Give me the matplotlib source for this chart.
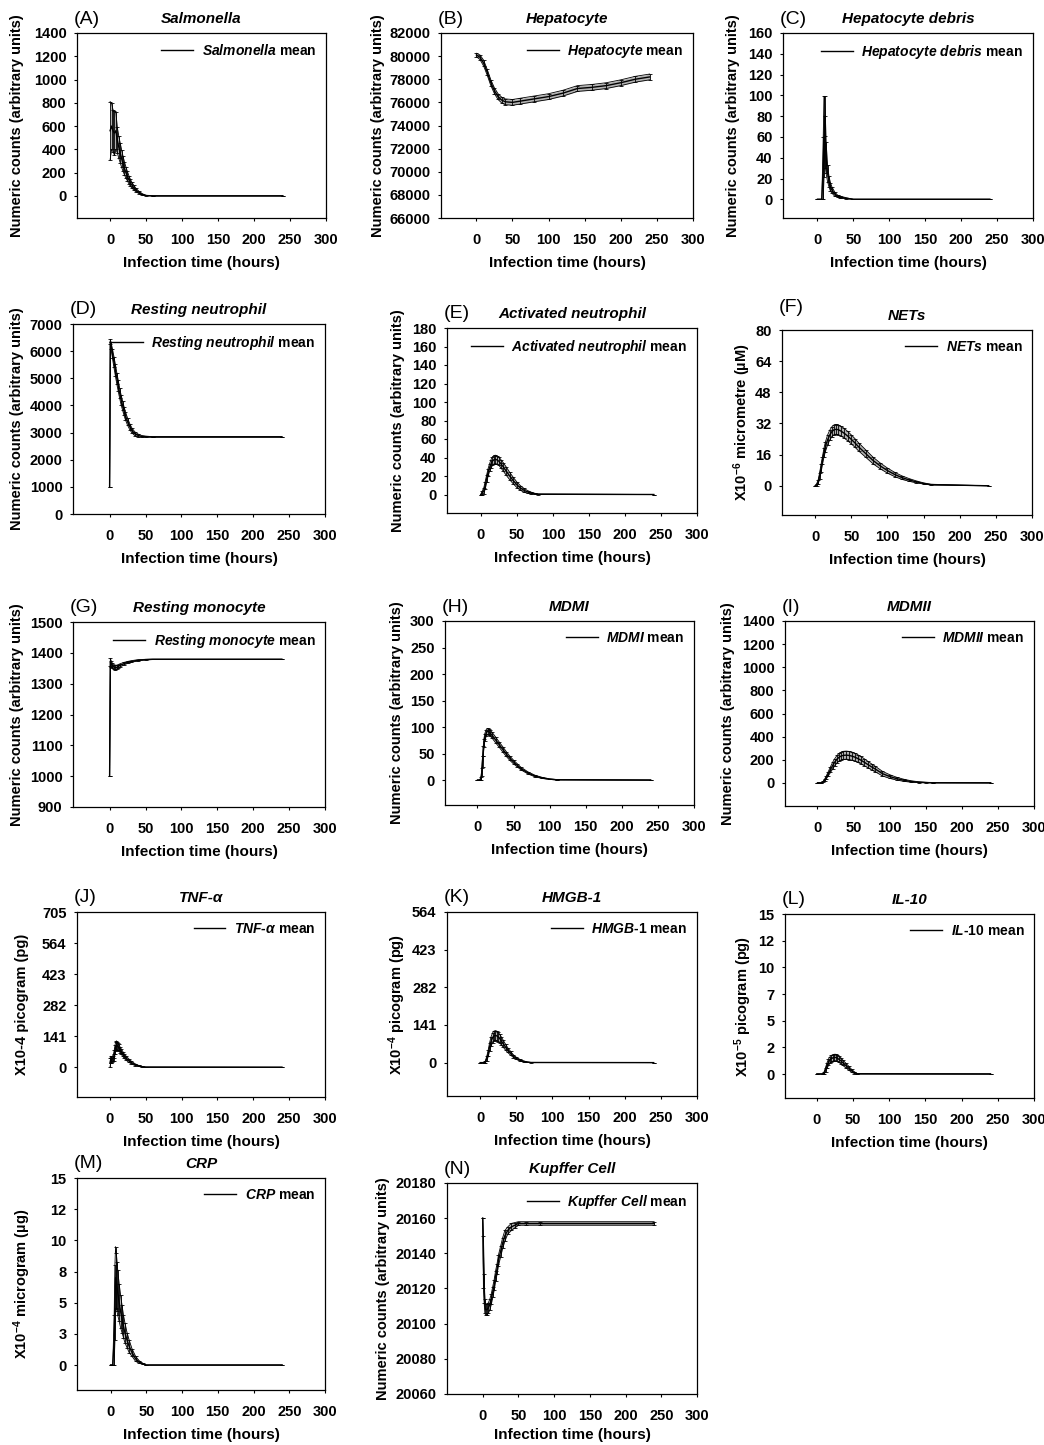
import numpy as np
import matplotlib
matplotlib.use("Agg")
import matplotlib.pyplot as plt

plt.rcParams.update({
    "font.family": ["Liberation Sans", "DejaVu Sans"],
    "font.weight": "bold",
    "mathtext.fontset": "custom",
    "mathtext.rm": "Liberation Sans:bold",
    "mathtext.it": "Liberation Sans:italic:bold",
    "mathtext.bf": "Liberation Sans:bold",
    "mathtext.default": "regular",
    "axes.linewidth": 0.9,
})

# ---------------- simulated time courses (mean and SD) ----------------
hour_ticks = [0, 50, 100, 150, 200, 250, 300]

salmonella_t    = [0, 2, 4, 6, 8, 10, 12, 14, 16, 18, 20, 22, 24, 26, 28, 30, 33, 36, 40, 45, 50, 60, 240]
salmonella_mean = [560, 600, 560, 540, 560, 480, 420, 370, 320, 275, 235, 200, 170, 140, 115, 95, 70, 50, 30, 12, 3, 0, 0]
salmonella_sd   = [250, 200, 180, 190, 160, 110, 95, 85, 75, 65, 55, 48, 40, 35, 30, 25, 20, 15, 10, 6, 2, 0, 0]

hepatocyte_t    = [0, 5, 10, 15, 20, 25, 30, 35, 40, 50, 60, 80, 100, 120, 140, 160, 180, 200, 220, 240]
hepatocyte_mean = [80100, 79900, 79400, 78600, 77700, 77000, 76500, 76200, 76050, 76000, 76100, 76300, 76500, 76800, 77200, 77300, 77450, 77700, 78000, 78200]
hepatocyte_sd   = [150, 200, 250, 250, 250, 250, 250, 250, 250, 250, 250, 250, 250, 250, 250, 250, 250, 250, 250, 250]

debris_t    = [0, 6, 8, 9, 10, 11, 12, 14, 16, 18, 20, 24, 28, 32, 40, 50, 240]
debris_mean = [0, 0, 30, 60, 80, 55, 40, 25, 17, 12, 9, 5, 3, 2, 1, 0, 0]
debris_sd   = [0, 0, 30, 39, 19, 25, 15, 8, 5, 4, 3, 2, 1, 1, 0.5, 0, 0]

rest_neut_t    = [0, 1, 2, 4, 6, 8, 10, 12, 14, 16, 18, 20, 22, 25, 28, 31, 35, 40, 45, 50, 60, 240]
rest_neut_mean = [1000, 6350, 6200, 5900, 5600, 5300, 5000, 4720, 4450, 4200, 4000, 3800, 3620, 3400, 3220, 3080, 2960, 2890, 2860, 2850, 2840, 2840]
rest_neut_sd   = [0, 80, 120, 170, 200, 210, 210, 200, 190, 180, 170, 160, 150, 130, 110, 90, 70, 50, 30, 20, 10, 10]

act_neut_t    = [0, 2, 4, 6, 8, 10, 12, 14, 16, 18, 20, 22, 25, 28, 31, 35, 40, 45, 50, 55, 60, 65, 70, 75, 80, 240]
act_neut_mean = [0, 2, 4, 10, 17, 24, 29, 33, 36, 37.5, 38, 37.5, 36, 33, 30, 25.5, 20, 15, 10.5, 7, 4.5, 2.7, 1.5, 0.8, 0.3, 0]
act_neut_sd   = [0, 2, 3, 4, 4, 4, 4, 4.5, 4.5, 4.5, 4.5, 4.5, 4.5, 4.5, 4.5, 4.5, 4, 3.5, 3, 2.5, 2, 1.5, 1, 0.5, 0.3, 0]

nets_t    = [0, 2, 4, 6, 8, 10, 12, 14, 17, 20, 23, 26, 29, 32, 36, 40, 45, 50, 55, 60, 70, 80, 90, 100, 110, 120, 130, 140, 150, 160, 240]
nets_mean = [0, 0.5, 2, 5, 9, 13, 17, 20, 23.5, 26, 27.8, 28.8, 29, 28.8, 28, 27, 25.5, 23.8, 22, 20, 16.5, 13, 10.2, 7.8, 5.8, 4.2, 3, 2, 1.2, 0.6, 0]
nets_sd   = [0, 0.5, 1, 1.5, 2, 2, 2.2, 2.4, 2.5, 2.5, 2.5, 2.5, 2.5, 2.5, 2.5, 2.5, 2.4, 2.3, 2.2, 2.1, 1.9, 1.7, 1.5, 1.3, 1.1, 0.9, 0.7, 0.5, 0.3, 0.2, 0]

rest_mono_t    = [0, 1, 2, 4, 6, 8, 10, 12, 15, 20, 25, 30, 40, 50, 60, 240]
rest_mono_mean = [1000, 1370, 1365, 1358, 1354, 1352, 1353, 1356, 1360, 1365, 1369, 1372, 1376, 1378, 1379, 1379]
rest_mono_sd   = [0, 12, 10, 8, 8, 8, 7, 6, 5, 4, 3, 2.5, 2, 1, 0.5, 0.5]

mdm1_t    = [0, 3, 5, 6, 7, 8, 9, 10, 12, 14, 16, 18, 20, 25, 30, 35, 40, 45, 50, 55, 60, 70, 80, 90, 100, 110, 240]
mdm1_mean = [0, 0, 3, 15, 35, 55, 70, 80, 89, 92, 91, 88, 85, 76, 67, 58, 49, 41, 34, 28, 22, 13.5, 7.5, 4, 1.8, 0.6, 0]
mdm1_sd   = [0, 0, 3, 8, 10, 9, 8, 7, 6, 5.5, 5.5, 5.5, 5.5, 5.5, 5, 5, 4.5, 4, 3.5, 3, 2.5, 2, 1.5, 1, 0.6, 0.3, 0]

mdm2_t    = [0, 5, 8, 10, 12, 15, 18, 21, 24, 27, 30, 33, 36, 40, 44, 48, 52, 56, 60, 65, 70, 75, 80, 90, 100, 110, 120, 130, 140, 150, 160, 240]
mdm2_mean = [0, 0, 10, 25, 45, 80, 115, 150, 180, 205, 222, 233, 238, 240, 237, 231, 222, 210, 197, 178, 158, 138, 120, 80, 55, 36, 22, 12, 6, 3, 1, 0]
mdm2_sd   = [0, 0, 5, 8, 12, 18, 24, 28, 30, 32, 33, 34, 35, 35, 35, 35, 34, 33, 32, 30, 28, 26, 24, 20, 16, 12, 9, 6, 4, 2, 1, 0]

tnf_t    = [0, 1, 2, 3, 4, 5, 6, 7, 8, 9, 10, 11, 12, 14, 16, 18, 20, 23, 26, 30, 35, 40, 45, 50, 240]
tnf_mean = [20, 35, 30, 38, 40, 45, 60, 80, 95, 100, 98, 95, 90, 80, 70, 60, 50, 40, 31, 21, 12, 6, 2.5, 0.5, 0]
tnf_sd   = [20, 15, 12, 12, 12, 15, 18, 20, 20, 20, 18, 17, 15, 13, 12, 11, 10, 9, 8, 6, 4, 2.5, 1.5, 0.5, 0]

hmgb_t    = [0, 5, 7, 9, 11, 13, 15, 17, 19, 21, 23, 25, 27, 29, 32, 35, 38, 42, 46, 50, 55, 60, 65, 70, 240]
hmgb_mean = [0, 0, 3, 15, 35, 60, 80, 93, 100, 102, 100, 96, 90, 82, 70, 58, 47, 35, 24, 16, 9, 4.5, 2, 0.5, 0]
hmgb_sd   = [0, 0, 3, 8, 12, 15, 17, 18, 18, 18, 18, 17, 16, 15, 13, 11, 9, 7, 5, 4, 3, 2, 1, 0.3, 0]

il10_t    = [0, 8, 10, 12, 14, 16, 18, 20, 22, 24, 26, 28, 30, 33, 36, 40, 44, 48, 52, 56, 240]
il10_mean = [0, 0, 0.1, 0.4, 0.8, 1.1, 1.3, 1.45, 1.5, 1.55, 1.55, 1.5, 1.4, 1.25, 1.05, 0.8, 0.55, 0.3, 0.12, 0.02, 0]
il10_sd   = [0, 0, 0.1, 0.2, 0.25, 0.3, 0.3, 0.3, 0.3, 0.3, 0.3, 0.3, 0.3, 0.28, 0.25, 0.22, 0.18, 0.14, 0.08, 0.02, 0]

crp_t    = [0, 3, 5, 6, 7, 8, 9, 10, 12, 14, 16, 18, 20, 23, 26, 30, 35, 40, 45, 50, 240]
crp_mean = [0, 0, 2, 5, 7, 6.8, 6.3, 5.8, 5, 4.3, 3.7, 3.1, 2.6, 2, 1.5, 1, 0.5, 0.25, 0.1, 0, 0]
crp_sd   = [0, 0, 2, 3, 2.5, 2.2, 2, 1.8, 1.5, 1.3, 1.1, 0.9, 0.8, 0.6, 0.5, 0.3, 0.2, 0.1, 0.05, 0, 0]

kupffer_t    = [0, 1, 2, 3, 4, 6, 8, 10, 12, 14, 16, 18, 20, 22, 25, 28, 31, 35, 40, 45, 50, 60, 80, 240]
kupffer_mean = [20160, 20135, 20120, 20110, 20108, 20108, 20109, 20111, 20114, 20118, 20122, 20127, 20131, 20136, 20141, 20146, 20150, 20153, 20155, 20156, 20157, 20157, 20157, 20157]
kupffer_sd   = [0, 15, 8, 4, 3, 3, 3, 3, 3, 3, 3, 3, 3, 3, 3, 3, 3, 2, 2, 1.5, 1, 1, 1, 1]

# ---------------- y tick values / labels ----------------
salmonella_yticks = [0, 200, 400, 600, 800, 1000, 1200, 1400]
hepatocyte_yticks = [66000, 68000, 70000, 72000, 74000, 76000, 78000, 80000, 82000]
debris_yticks     = [0, 20, 40, 60, 80, 100, 120, 140, 160]
rest_neut_yticks  = [0, 1000, 2000, 3000, 4000, 5000, 6000, 7000]
act_neut_yticks   = [0, 20, 40, 60, 80, 100, 120, 140, 160, 180]
nets_yticks       = [0, 16, 32, 48, 64, 80]
rest_mono_yticks  = [900, 1000, 1100, 1200, 1300, 1400, 1500]
mdm1_yticks       = [0, 50, 100, 150, 200, 250, 300]
mdm2_yticks       = [0, 200, 400, 600, 800, 1000, 1200, 1400]
tnf_yticks        = [0, 141, 282, 423, 564, 705]
hmgb_yticks       = [0, 141, 282, 423, 564]
il10_yticks       = [0, 2.5, 5, 7.5, 10, 12.5, 15]
il10_yticklabels  = ["0", "2", "5", "7", "10", "12", "15"]
crp_yticks        = [0, 2.5, 5, 7.5, 10, 12.5, 15]
crp_yticklabels   = ["0", "3", "5", "8", "10", "12", "15"]
kupffer_yticks    = [20060, 20080, 20100, 20120, 20140, 20160, 20180]

COUNTS = "Numeric counts (arbitrary units)"

# box = (left, right, top, bottom) in pixels; ylab_x = pixel x of the y-axis title
panels = [
    dict(letter="(A)", title="Salmonella", legend=r"$\mathit{Salmonella}$ mean",
         t=salmonella_t, m=salmonella_mean, s=salmonella_sd, yt=salmonella_yticks,
         ylim=(-190, 1400), xmin=-46, box=(77, 326, 33, 218), ylabel=COUNTS, ylab_x=17),
    dict(letter="(B)", title="Hepatocyte", legend=r"$\mathit{Hepatocyte}$ mean",
         t=hepatocyte_t, m=hepatocyte_mean, s=hepatocyte_sd, yt=hepatocyte_yticks,
         ylim=(66000, 82000), xmin=-49, box=(441, 693, 33, 218), ylabel=COUNTS, ylab_x=378),
    dict(letter="(C)", title="Hepatocyte debris", legend=r"$\mathit{Hepatocyte\ debris}$ mean",
         t=debris_t, m=debris_mean, s=debris_sd, yt=debris_yticks,
         ylim=(-18, 160), xmin=-48, box=(783, 1033, 33, 218), ylabel=COUNTS, ylab_x=733),
    dict(letter="(D)", title="Resting neutrophil", legend=r"$\mathit{Resting\ neutrophil}$ mean",
         t=rest_neut_t, m=rest_neut_mean, s=rest_neut_sd, yt=rest_neut_yticks,
         ylim=(0, 7000), xmin=-51, box=(73, 325, 324, 514), ylabel=COUNTS, ylab_x=17),
    dict(letter="(E)", title="Activated neutrophil", legend=r"$\mathit{Activated\ neutrophil}$ mean",
         t=act_neut_t, m=act_neut_mean, s=act_neut_sd, yt=act_neut_yticks,
         ylim=(-20, 180), xmin=-47, box=(447, 697, 328, 513), ylabel=COUNTS, ylab_x=398),
    dict(letter="(F)", title="NETs", legend=r"$\mathit{NETs}$ mean",
         t=nets_t, m=nets_mean, s=nets_sd, yt=nets_yticks,
         ylim=(-15, 80), xmin=-46, box=(782, 1032, 330, 515),
         ylabel=r"X10$^{-6}$ micrometre (µM)", ylab_x=742, letter_dy=22),
    dict(letter="(G)", title="Resting monocyte", legend=r"$\mathit{Resting\ monocyte}$ mean",
         t=rest_mono_t, m=rest_mono_mean, s=rest_mono_sd, yt=rest_mono_yticks,
         ylim=(900, 1500), xmin=-51, box=(73, 325, 622, 807), ylabel=COUNTS, ylab_x=17),
    dict(letter="(H)", title="MDMI", legend=r"$\mathit{MDMI}$ mean",
         t=mdm1_t, m=mdm1_mean, s=mdm1_sd, yt=mdm1_yticks,
         ylim=(-47, 300), xmin=-45, box=(445, 694, 621, 805), ylabel=COUNTS, ylab_x=397),
    dict(letter="(I)", title="MDMII", legend=r"$\mathit{MDMII}$ mean",
         t=mdm2_t, m=mdm2_mean, s=mdm2_sd, yt=mdm2_yticks,
         ylim=(-200, 1400), xmin=-45, box=(785, 1034, 621, 806), ylabel=COUNTS, ylab_x=728),
    dict(letter="(J)", title="TNF-α", legend=r"$\mathit{TNF}$-$\mathit{α}$ mean",
         t=tnf_t, m=tnf_mean, s=tnf_sd, yt=tnf_yticks,
         ylim=(-135, 705), xmin=-46, box=(77, 325, 912, 1097),
         ylabel="X10-4 picogram (pg)", ylab_x=22),
    dict(letter="(K)", title="HMGB-1", legend=r"$\mathit{HMGB}$-$\mathit{1}$ mean",
         t=hmgb_t, m=hmgb_mean, s=hmgb_sd, yt=hmgb_yticks,
         ylim=(-125, 564), xmin=-46, box=(447, 697, 912, 1096),
         ylabel=r"X10$^{-4}$ picogram (pg)", ylab_x=397),
    dict(letter="(L)", title="IL-10", legend=r"$\mathit{IL}$-$\mathit{10}$ mean",
         t=il10_t, m=il10_mean, s=il10_sd, yt=il10_yticks, ytl=il10_yticklabels,
         ylim=(-2.25, 15), xmin=-44, box=(785, 1034, 914, 1098),
         ylabel=r"X10$^{-5}$ picogram (pg)", ylab_x=743),
    dict(letter="(M)", title="CRP", legend=r"$\mathit{CRP}$ mean",
         t=crp_t, m=crp_mean, s=crp_sd, yt=crp_yticks, ytl=crp_yticklabels,
         ylim=(-2, 15), xmin=-47, box=(77, 325, 1178, 1390),
         ylabel=r"X10$^{-4}$ microgram (µg)", ylab_x=22),
    dict(letter="(N)", title="Kupffer Cell", legend=r"$\mathit{Kupffer\ Cell}$ mean",
         t=kupffer_t, m=kupffer_mean, s=kupffer_sd, yt=kupffer_yticks,
         ylim=(20060, 20180), xmin=-50, box=(447, 697, 1183, 1394), ylabel=COUNTS, ylab_x=383,
         xlab_dy=41),
]

W, H = 1044, 1445
fig = plt.figure(figsize=(W / 100, H / 100), dpi=100)
fig.patch.set_facecolor("none")


def draw_panel(p):
    L, R, T, B = p["box"]
    ax = fig.add_axes([L / W, 1 - B / H, (R - L) / W, (B - T) / H])
    ax.set_facecolor("none")
    t = np.asarray(p["t"], float)
    m = np.asarray(p["m"], float)
    s = np.asarray(p["s"], float)

    # SD envelope drawn as a shaded band with thin bounds plus error bars
    ax.fill_between(t, m - s, m + s, color="k", alpha=0.3, lw=0)
    ax.plot(t, m - s, color="k", lw=0.6)
    ax.plot(t, m + s, color="k", lw=0.6)
    ax.errorbar(t, m, yerr=s, fmt="none", ecolor="k", elinewidth=0.6,
                capsize=1.5, capthick=0.6)
    ax.plot(t, m, color="k", lw=1.0, label=p["legend"])

    ax.set_xlim(p["xmin"], 300)
    ax.set_ylim(*p["ylim"])
    ax.set_xticks(hour_ticks)
    ax.set_xticklabels([str(v) for v in hour_ticks])
    ax.set_yticks(p["yt"])
    ax.set_yticklabels(p.get("ytl", [str(v) for v in p["yt"]]))
    ax.tick_params(direction="out", length=2.5, width=0.8, labelsize=10.5)
    ax.tick_params(axis="x", pad=8)
    ax.tick_params(axis="y", pad=5)
    for lab in ax.get_xticklabels() + ax.get_yticklabels():
        lab.set_fontweight("bold")

    ax.legend(loc="upper right", frameon=False, borderaxespad=0.3, borderpad=0.4,
              handlelength=2.3, handletextpad=0.6,
              prop={"family": "Liberation Sans", "weight": "bold", "size": 10})

    cx = (L + R) / 2
    fig.text((L - 3) / W, 1 - (T - p.get("letter_dy", 14)) / H, p["letter"],
             ha="left", va="center", fontsize=14, fontweight="normal")
    fig.text(cx / W, 1 - (T - 14) / H, p["title"], ha="center", va="center",
             fontsize=11, fontweight="bold", fontstyle="italic")
    fig.text(cx / W, 1 - (B + p.get("xlab_dy", 45)) / H, "Infection time (hours)",
             ha="center", va="center", fontsize=11, fontweight="bold")
    fig.text(p["ylab_x"] / W, 1 - ((T + B) / 2) / H, p["ylabel"], rotation=90,
             ha="center", va="center", fontsize=10.5, fontweight="bold")


for p in panels:
    draw_panel(p)

# all ink is black: keep the coverage as alpha over a transparent background
fig.canvas.draw()
img = np.asarray(fig.canvas.buffer_rgba()).copy()
img[..., :3] = 0
plt.imsave("out.png", img)
